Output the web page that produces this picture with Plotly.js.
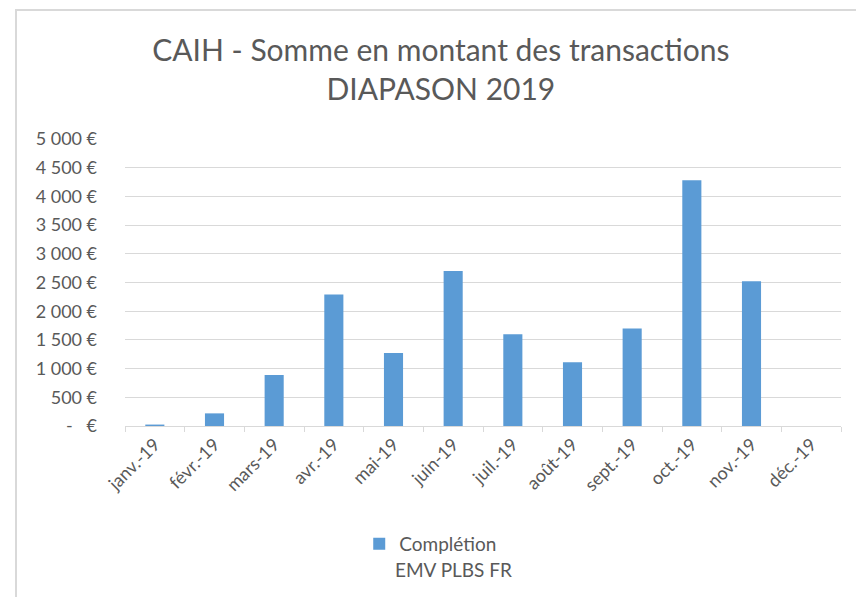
<!DOCTYPE html>
<html>
<head>
<meta charset="utf-8">
<script src="https://cdn.plot.ly/plotly-3.0.1.min.js"></script>
<style>
  html, body { margin: 0; padding: 0; background: #fff; }
  #frame { position: absolute; left: 15px; top: 9px; width: 900px; height: 700px; border-left: 2px solid #D9D9D9; border-top: 2px solid #D9D9D9; }
  #chart { position: absolute; left: 0; top: 0; width: 856px; height: 597px; }
</style>
</head>
<body>
<div id="frame"></div>
<div id="chart"></div>
<script>
const months = ["janv.-19", "févr.-19", "mars-19", "avr.-19", "mai-19", "juin-19", "juil.-19", "août-19", "sept.-19", "oct.-19", "nov.-19", "déc.-19"];
const completion = [25, 220, 890, 2290, 1270, 2700, 1600, 1110, 1700, 4280, 2520, 0];
const yTickVals = [0, 500, 1000, 1500, 2000, 2500, 3000, 3500, 4000, 4500, 5000];
const yTickText = ["-\u00a0\u00a0\u00a0€", "500\u202f€", "1\u00a0000\u202f€", "1\u00a0500\u202f€", "2\u00a0000\u202f€", "2\u00a0500\u202f€", "3\u00a0000\u202f€", "3\u00a0500\u202f€", "4\u00a0000\u202f€", "4\u00a0500\u202f€", "5\u00a0000\u202f€"];
const seriesName = "Complétion";
const seriesSub = "EMV PLBS FR";
const titleText = "CAIH - Somme en montant des transactions<br>DIAPASON 2019";

const FONT = "Lato, 'Open Sans', sans-serif";

const trace = {
  type: "bar",
  x: months,
  y: completion,
  name: seriesName,
  marker: { color: "#5B9BD5", line: { width: 0 } },
  showlegend: true
};

const layout = {
  width: 856,
  height: 597,
  paper_bgcolor: "rgba(0,0,0,0)",
  plot_bgcolor: "rgba(0,0,0,0)",
  margin: { l: 124.5, r: 15, t: 139, b: 171 },
  bargap: 0.68,
  title: {
    text: titleText,
    font: { family: FONT, size: 30, color: "#595959" },
    xref: "container", yref: "container",
    x: 0.515, xanchor: "center",
    y: 0.898, yanchor: "top"
  },
  font: { family: FONT, color: "#595959" },
  xaxis: {
    type: "category",
    tickangle: -45,
    tickfont: { family: FONT, size: 18, color: "#595959" },
    showline: true, linecolor: "#D9D9D9", linewidth: 1,
    ticks: "outside", tickson: "boundaries", ticklen: 5, tickcolor: "#D9D9D9",
    showgrid: false,
    fixedrange: true
  },
  yaxis: {
    range: [0, 5000],
    tickvals: yTickVals,
    ticktext: yTickText,
    tickfont: { family: FONT, size: 18, color: "#595959" },
    showgrid: true, gridcolor: "#D9D9D9", gridwidth: 1,
    zeroline: false,
    showline: false,
    ticks: "",
    ticklabelstandoff: 27,
    fixedrange: true
  },
  legend: {
    orientation: "h",
    x: 0.427, xanchor: "center",
    y: -0.345, yanchor: "top",
    font: { family: FONT, size: 19, color: "#595959" },
    itemwidth: 30
  },
  annotations: [{
    text: seriesSub,
    xref: "paper", yref: "paper",
    x: 0.4585, xanchor: "center",
    y: -0.5, yanchor: "middle",
    showarrow: false,
    font: { family: FONT, size: 19, color: "#595959" }
  }]
};

Plotly.newPlot("chart", [trace], layout, { displayModeBar: false, staticPlot: true });
</script>
</body>
</html>
